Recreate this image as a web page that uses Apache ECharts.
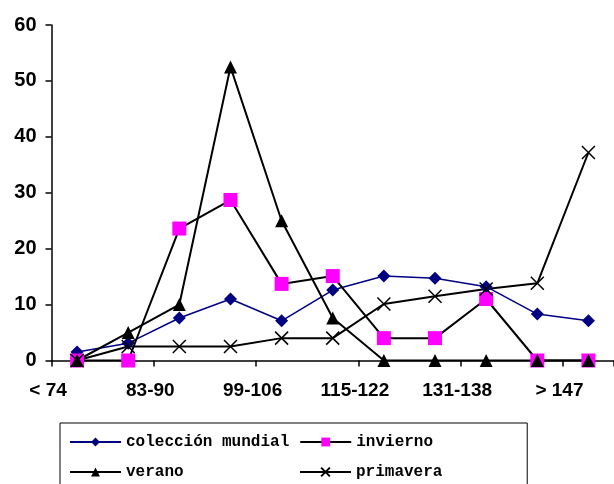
<!DOCTYPE html>
<html>
<head>
<meta charset="utf-8">
<script src="https://cdn.jsdelivr.net/npm/echarts@6/dist/echarts.min.js"></script>
<style>
  html, body { margin: 0; padding: 0; background: #fff; }
  #chart { width: 614px; height: 484px; }
</style>
</head>
<body>
<div id="chart"></div>
<script>
// Size classes (every other one is labelled on the axis)
const categories = ['< 74', '75-82', '83-90', '91-98', '99-106', '107-114',
                    '115-122', '123-130', '131-138', '139-146', '> 147'];

// Percentages per class
const coleccionMundial = [1.5, 3.1, 7.6, 11.0, 7.1, 12.6, 15.1, 14.7, 13.2, 8.3, 7.1];
const invierno         = [0, 0, 23.6, 28.7, 13.7, 15.1, 4.0, 4.0, 11.0, 0, 0];
const verano           = [0, 5.0, 10.0, 52.5, 25.0, 7.6, 0, 0, 0, 0, 0];
const primavera        = [0, 2.5, 2.5, 2.5, 4.0, 4.0, 10.1, 11.5, 12.8, 13.8, 37.2];

// Y axis ticks
const yMin = 0, yMax = 60, yStep = 10;

const axisFont = { fontFamily: 'Liberation Sans, Arial, sans-serif', fontWeight: 'bold', fontSize: 19, color: '#000' };
const crossPath = 'path://M0,0L10,10M10,0L0,10';

const chart = echarts.init(document.getElementById('chart'), null, { renderer: 'canvas' });

chart.setOption({
  animation: false,
  backgroundColor: '#fff',
  grid: { left: 51.5, right: -4, top: 25, bottom: 123.5, containLabel: false },
  xAxis: {
    type: 'category',
    data: categories,
    boundaryGap: true,
    axisLine: { lineStyle: { color: '#000', width: 1.5 } },
    axisTick: { show: true, length: 6, lineStyle: { color: '#000', width: 1.5 } },
    axisLabel: Object.assign({}, axisFont, { interval: 1, margin: 21, padding: [0, 58, 0, 0] }),
    splitLine: { show: false }
  },
  yAxis: {
    type: 'value',
    min: yMin, max: yMax, interval: yStep,
    axisLine: { show: true, lineStyle: { color: '#000', width: 1.5 } },
    axisTick: { show: true, length: 6, lineStyle: { color: '#000', width: 1.5 } },
    axisLabel: Object.assign({}, axisFont, { fontSize: 20, margin: 15 }),
    splitLine: { show: false }
  },
  legend: {
    left: 60, top: 423,
    width: 460,
    orient: 'horizontal',
    itemWidth: 51, itemHeight: 11, itemGap: 10,
    padding: [9, 8, 4, 9],
    borderColor: '#000', borderWidth: 1,
    textStyle: { fontFamily: 'Liberation Mono, Courier New, monospace', fontWeight: 'bold', fontSize: 16, color: '#000', width: 163, height: 20, lineHeight: 20 },
    data: ['colección mundial', 'invierno', 'verano', 'primavera']
  },
  series: [
    {
      name: 'colección mundial', type: 'line', data: coleccionMundial,
      symbol: 'diamond', symbolSize: 13,
      lineStyle: { color: '#000080', width: 1.5 },
      itemStyle: { color: '#000080' }
    },
    {
      name: 'invierno', type: 'line', data: invierno,
      symbol: 'rect', symbolSize: 14,
      lineStyle: { color: '#000', width: 2 },
      itemStyle: { color: '#ff00ff' }
    },
    {
      name: 'verano', type: 'line', data: verano,
      symbol: 'triangle', symbolSize: 13,
      lineStyle: { color: '#000', width: 2 },
      itemStyle: { color: '#000' }
    },
    {
      name: 'primavera', type: 'line', data: primavera,
      symbol: crossPath, symbolSize: 13,
      lineStyle: { color: '#000', width: 2 },
      itemStyle: { color: 'rgba(0,0,0,0)', borderColor: '#000', borderWidth: 1.5 }
    }
  ]
});
</script>
</body>
</html>
